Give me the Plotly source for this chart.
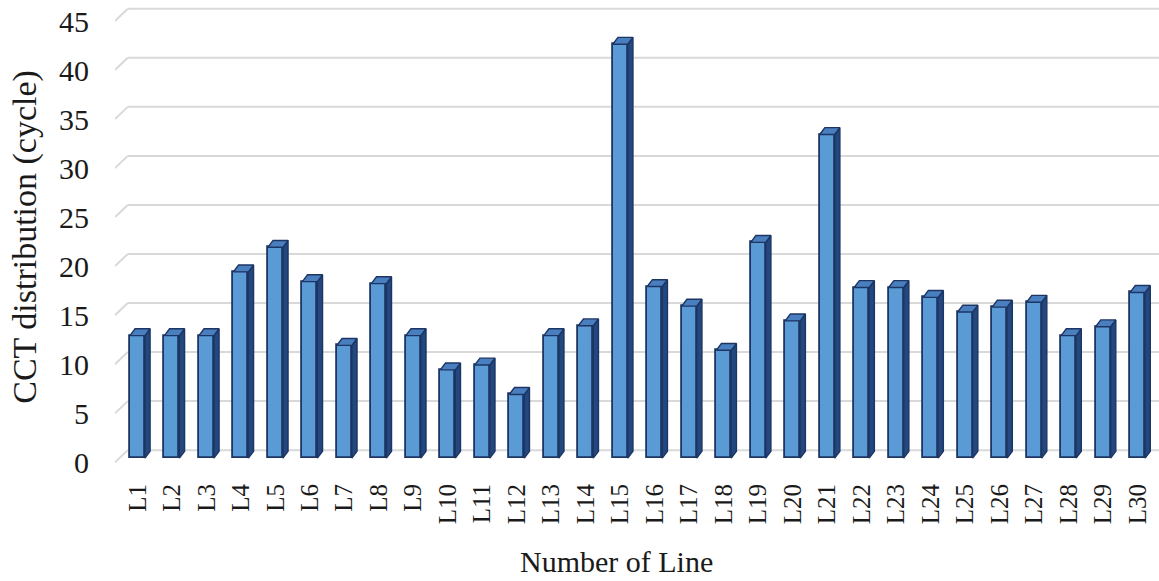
import plotly.graph_objects as go

# Critical clearing time (cycles) for each transmission line
lines = ["L1", "L2", "L3", "L4", "L5", "L6", "L7", "L8", "L9", "L10",
         "L11", "L12", "L13", "L14", "L15", "L16", "L17", "L18", "L19", "L20",
         "L21", "L22", "L23", "L24", "L25", "L26", "L27", "L28", "L29", "L30"]
cct = [12.5, 12.5, 12.5, 19.0, 21.5, 18.0, 11.5, 17.8, 12.5, 9.0,
       9.5, 6.5, 12.5, 13.5, 42.2, 17.5, 15.5, 11.0, 22.0, 14.0,
       33.0, 17.4, 17.4, 16.4, 14.9, 15.4, 15.9, 12.5, 13.4, 16.9]
y_ticks = [0, 5, 10, 15, 20, 25, 30, 35, 40, 45]

# pseudo-3D column geometry (axis units)
BAR_W = 0.435
SIDE_DX = 0.15
TOP_DY = 0.7
GRID_FRONT = -0.42
GRID_BACK = 0.82
LABEL_SHIFT = -0.45
X_LEFT, X_KNEE, X_RIGHT = -0.65, -0.28, 29.62

FRONT = "#5b9bd5"
SIDE = "#23477f"
TOP = "#4a7fbf"
EDGE = "#1c3563"
FONT = "Liberation Serif"

xs = list(range(len(lines)))
fig = go.Figure()

# back-wall gridlines (behind the columns) with the short floor-perspective lead-in
grid_shapes = []
for v in y_ticks:
    grid_shapes.append(dict(type="line", xref="x", yref="y", layer="below",
                            x0=X_LEFT, y0=v + GRID_FRONT, x1=X_KNEE, y1=v + GRID_BACK,
                            line=dict(color="#d9d9d9", width=2)))
    grid_shapes.append(dict(type="line", xref="x", yref="y", layer="below",
                            x0=X_KNEE, y0=v + GRID_BACK, x1=X_RIGHT, y1=v + GRID_BACK,
                            line=dict(color="#d9d9d9", width=2)))

# front faces
fig.add_trace(go.Bar(x=xs, y=cct, width=BAR_W,
                     marker=dict(color=FRONT, line=dict(color=EDGE, width=1.8)),
                     showlegend=False))

# side and top faces
sx, sy, tx, ty = [], [], [], []
for i, v in zip(xs, cct):
    r = i + BAR_W / 2
    l = i - BAR_W / 2
    sx += [r, r + SIDE_DX, r + SIDE_DX, r, r, None]
    sy += [0, TOP_DY, v + TOP_DY, v, 0, None]
    tx += [l, l + SIDE_DX, r + SIDE_DX, r, l, None]
    ty += [v, v + TOP_DY, v + TOP_DY, v, v, None]
fig.add_trace(go.Scatter(x=sx, y=sy, mode="lines", fill="toself",
                         fillcolor=SIDE, line=dict(color=EDGE, width=1.4),
                         hoverinfo="skip", showlegend=False))
fig.add_trace(go.Scatter(x=tx, y=ty, mode="lines", fill="toself",
                         fillcolor=TOP, line=dict(color=EDGE, width=1.4),
                         hoverinfo="skip", showlegend=False))

fig.update_layout(
    width=1159, height=581,
    margin=dict(l=115, r=0, t=7, b=113),
    paper_bgcolor="white", plot_bgcolor="white",
    font=dict(family=FONT, color="#1a1a1a"),
    bargap=0,
    shapes=grid_shapes,
    xaxis=dict(range=[X_LEFT, X_RIGHT], tickmode="array", tickvals=xs,
               ticktext=lines, tickangle=-90, tickfont=dict(size=25),
               showgrid=False, zeroline=False, showline=False,
               ticklabelstandoff=10),
    yaxis=dict(range=[-1.0, 46.0], tickmode="array",
               tickvals=[v + LABEL_SHIFT for v in y_ticks],
               ticktext=[str(v) for v in y_ticks], tickfont=dict(size=30),
               showgrid=False, zeroline=False, showline=False,
               ticklabelstandoff=25),
    annotations=[
        dict(text="Number of Line", xref="paper", yref="paper",
             x=0.48, y=-0.203, xanchor="center", yanchor="middle",
             showarrow=False, font=dict(size=30)),
        dict(text="CCT distribution (cycle)", xref="paper", yref="paper",
             x=-0.087, y=0.502, xanchor="center", yanchor="middle",
             textangle=-90, showarrow=False, font=dict(size=34)),
    ],
)

fig.write_html("out.html")
